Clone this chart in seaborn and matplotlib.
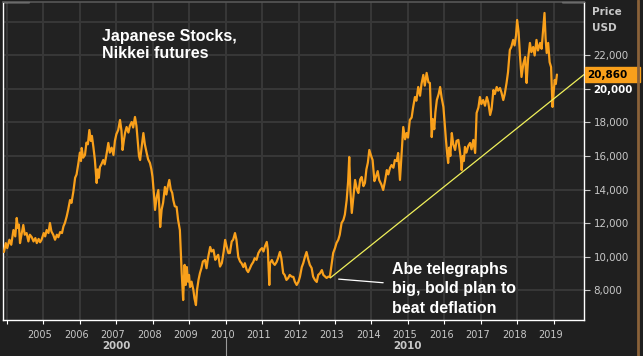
import pandas as pd
import matplotlib.pyplot as plt
import matplotlib.transforms as mtransforms
from matplotlib.patches import Rectangle
from matplotlib.lines import Line2D
import seaborn as sns

# Nikkei futures (USD): decimal year / price
years = [
    2003.93, 2003.98, 2004.02, 2004.08, 2004.13, 2004.19, 2004.24, 2004.28, 2004.31, 2004.34,
    2004.37, 2004.41, 2004.46, 2004.50, 2004.55, 2004.60, 2004.64, 2004.69, 2004.74, 2004.79,
    2004.83, 2004.88, 2004.92, 2004.96, 2005.02, 2005.06, 2005.10, 2005.15, 2005.19, 2005.23,
    2005.28, 2005.33, 2005.38, 2005.42, 2005.47, 2005.52, 2005.56, 2005.60, 2005.65, 2005.69,
    2005.74, 2005.78, 2005.83, 2005.88, 2005.92, 2005.97, 2006.01, 2006.04, 2006.06, 2006.10,
    2006.15, 2006.19, 2006.23, 2006.27, 2006.31, 2006.34, 2006.38, 2006.42, 2006.45, 2006.47,
    2006.50, 2006.53, 2006.56, 2006.60, 2006.65, 2006.69, 2006.74, 2006.79, 2006.83, 2006.88,
    2006.93, 2006.97, 2007.01, 2007.06, 2007.11, 2007.15, 2007.18, 2007.22, 2007.25, 2007.29,
    2007.34, 2007.38, 2007.43, 2007.47, 2007.52, 2007.56, 2007.60, 2007.63, 2007.66, 2007.70,
    2007.75, 2007.79, 2007.84, 2007.88, 2007.93, 2007.97, 2008.00, 2008.04, 2008.07, 2008.11,
    2008.16, 2008.19, 2008.21, 2008.25, 2008.29, 2008.34, 2008.38, 2008.42, 2008.46, 2008.50,
    2008.54, 2008.57, 2008.61, 2008.66, 2008.70, 2008.75, 2008.78, 2008.80, 2008.82, 2008.84,
    2008.86, 2008.88, 2008.91, 2008.94, 2008.97, 2009.00, 2009.03, 2009.07, 2009.12, 2009.15,
    2009.19, 2009.22, 2009.26, 2009.30, 2009.34, 2009.38, 2009.44, 2009.48, 2009.52, 2009.58,
    2009.62, 2009.67, 2009.72, 2009.76, 2009.80, 2009.85, 2009.90, 2009.95, 2009.99, 2010.03,
    2010.08, 2010.12, 2010.17, 2010.21, 2010.26, 2010.30, 2010.35, 2010.40, 2010.44, 2010.49,
    2010.53, 2010.58, 2010.62, 2010.67, 2010.71, 2010.76, 2010.80, 2010.85, 2010.90, 2010.95,
    2011.00, 2011.04, 2011.08, 2011.13, 2011.16, 2011.20, 2011.22, 2011.27, 2011.31, 2011.35,
    2011.40, 2011.44, 2011.49, 2011.53, 2011.58, 2011.62, 2011.67, 2011.72, 2011.76, 2011.81,
    2011.86, 2011.90, 2011.95, 2012.00, 2012.04, 2012.09, 2012.13, 2012.18, 2012.22, 2012.27,
    2012.31, 2012.36, 2012.40, 2012.45, 2012.50, 2012.54, 2012.59, 2012.64, 2012.68, 2012.73,
    2012.77, 2012.82, 2012.86, 2012.90, 2012.95, 2013.00, 2013.04, 2013.09, 2013.13, 2013.18,
    2013.23, 2013.27, 2013.32, 2013.36, 2013.39, 2013.42, 2013.46, 2013.50, 2013.55, 2013.60,
    2013.64, 2013.69, 2013.73, 2013.78, 2013.82, 2013.86, 2013.90, 2013.94, 2013.99, 2014.03,
    2014.08, 2014.12, 2014.17, 2014.21, 2014.27, 2014.32, 2014.37, 2014.42, 2014.46, 2014.51,
    2014.55, 2014.60, 2014.64, 2014.69, 2014.73, 2014.76, 2014.78, 2014.82, 2014.87, 2014.92,
    2014.96, 2015.00, 2015.05, 2015.10, 2015.14, 2015.19, 2015.23, 2015.28, 2015.33, 2015.37,
    2015.42, 2015.46, 2015.51, 2015.56, 2015.60, 2015.63, 2015.65, 2015.68, 2015.72, 2015.75,
    2015.79, 2015.84, 2015.88, 2015.92, 2015.97, 2016.01, 2016.04, 2016.07, 2016.10, 2016.13,
    2016.16, 2016.20, 2016.24, 2016.29, 2016.33, 2016.38, 2016.42, 2016.45, 2016.47, 2016.50,
    2016.53, 2016.56, 2016.60, 2016.65, 2016.70, 2016.74, 2016.79, 2016.82, 2016.84, 2016.86,
    2016.88, 2016.93, 2016.97, 2017.01, 2017.06, 2017.11, 2017.16, 2017.20, 2017.25, 2017.29,
    2017.34, 2017.38, 2017.43, 2017.47, 2017.52, 2017.56, 2017.61, 2017.65, 2017.70, 2017.74,
    2017.79, 2017.83, 2017.88, 2017.92, 2017.96, 2017.99, 2018.03, 2018.07, 2018.11, 2018.16,
    2018.21, 2018.23, 2018.25, 2018.29, 2018.34, 2018.38, 2018.43, 2018.47, 2018.52, 2018.56,
    2018.62, 2018.66, 2018.71, 2018.74, 2018.77, 2018.80, 2018.84, 2018.88, 2018.92, 2018.94,
    2018.96, 2018.99, 2019.02, 2019.05, 2019.08,
]
prices = [
    10270, 10800, 10500, 11000, 10700, 11580, 11200, 12300, 11700, 11900,
    10800, 11300, 11880, 11300, 11400, 10900, 11300, 11160, 10900, 11100,
    10800, 11050, 10850, 11000, 11400, 11200, 11580, 11400, 12000, 11500,
    11300, 11000, 11300, 11150, 11460, 11400, 11800, 12000, 12400, 12800,
    13370, 13200, 13850, 14700, 14900, 15580, 16200, 15700, 16480, 15900,
    16060, 16800, 16700, 17550, 16900, 17200, 16540, 15800, 15000, 14390,
    15200, 14700, 15340, 15500, 15760, 15500, 16100, 16780, 16200, 16500,
    16060, 16900, 17300, 17550, 18150, 17500, 16360, 17000, 17400, 17730,
    17400, 17800, 18030, 17700, 18330, 17800, 16800, 16000, 15760, 16500,
    17370, 16700, 16180, 15800, 15580, 15200, 14750, 13700, 12780, 13500,
    13970, 12800, 11760, 12800, 13200, 14150, 13700, 14200, 14570, 14000,
    13800, 13370, 13000, 12960, 12200, 11580, 10000, 9010, 8200, 7400,
    8600, 9500, 8300, 9370, 8500, 8900, 8180, 8500, 8000, 7500,
    7100, 8000, 8600, 9010, 9300, 9700, 9790, 9300, 9900, 10570,
    10300, 10400, 9800, 9970, 10100, 9400, 9610, 10300, 10990, 10600,
    10200, 10210, 10900, 11000, 11400, 11000, 9970, 9700, 9600, 9370,
    9600, 9200, 9070, 9300, 9500, 9670, 9900, 9800, 10200, 10390,
    10500, 10300, 10600, 10870, 10400, 8300, 9600, 9790, 9600, 9500,
    9670, 9900, 10270, 9900, 9010, 8900, 8600, 8720, 8900, 8800,
    8780, 8500, 8300, 8500, 8800, 9370, 9600, 10000, 10270, 9800,
    9500, 9310, 8800, 8600, 8480, 8900, 9000, 9190, 8900, 8800,
    8720, 8800, 8780, 9400, 10210, 10500, 10800, 11000, 11300, 12000,
    12180, 12500, 13370, 14500, 15940, 14000, 12600, 13500, 14570, 14000,
    13790, 14600, 14750, 14200, 14390, 15200, 15600, 16360, 16000, 15760,
    14500, 14750, 15100, 14570, 14300, 13970, 14500, 15160, 14900, 15300,
    15460, 15300, 15760, 15700, 16180, 15200, 14570, 16000, 17730, 17000,
    17370, 17100, 18150, 18300, 18900, 19520, 19300, 20120, 19600, 20300,
    20840, 20200, 20960, 20400, 20360, 18500, 17130, 18200, 17600, 18600,
    19340, 19700, 20120, 19500, 18930, 17800, 16960, 16200, 15580, 16500,
    16000, 17370, 16700, 16360, 16900, 16960, 16300, 15800, 15160, 16000,
    15700, 16540, 16200, 16600, 16780, 16400, 16960, 16500, 16180, 17400,
    18570, 18900, 19520, 19100, 19340, 19000, 19520, 19200, 18450, 18800,
    19940, 19700, 20120, 19900, 20060, 19800, 19340, 19700, 20360, 21000,
    22330, 22500, 22930, 22600, 23200, 24120, 23400, 21910, 20720, 21500,
    21910, 21000, 20360, 21800, 22750, 22200, 22510, 22000, 22930, 22300,
    22750, 22400, 23700, 24540, 23000, 22150, 22750, 21600, 21310, 20200,
    18930, 19800, 20540, 20300, 20860,
]

trend_years = [2012.87, 2019.82]
trend_prices = [8720, 20860]

abe_year = 2013.1
abe_price = 8650
last_price = 20860

tick_years = list(range(2004, 2020))
tick_labels = [''] + [str(y) for y in range(2005, 2020)]
price_ticks = [8000, 10000, 12000, 14000, 16000, 18000, 20000, 22000]
extra_grid = [24000]
decade_labels = ['2000', '2010']
decade_pos = [2007.0, 2015.0]
decade_split = 2010

BG = '#1f1f1f'
AX_BG = '#222222'
GRID = '#383838'
ORANGE = '#f9a01b'
YELLOW = '#f0f05a'
LABEL = '#c8c8c8'

sns.set_theme(style='dark', rc={
    'axes.facecolor': AX_BG,
    'figure.facecolor': BG,
    'axes.edgecolor': 'white',
    'grid.color': GRID,
})
plt.rcParams['font.family'] = ['DejaVu Sans']

fig = plt.figure(figsize=(6.43, 3.56), dpi=100, facecolor=BG)
ax = fig.add_axes([3 / 643, 36 / 356, 581 / 643, 318 / 356])

df = pd.DataFrame({'year': years, 'price': prices})
sns.lineplot(data=df, x='year', y='price', color=ORANGE, lw=1.6,
             estimator=None, sort=False, ax=ax, zorder=3)
sns.lineplot(x=trend_years, y=trend_prices, color=YELLOW, lw=0.9,
             estimator=None, ax=ax, zorder=4)

ax.set_xlim(2003.904, 2019.822)
ax.set_ylim(6209, 25194)
ax.set_xlabel('')
ax.set_ylabel('')

# grid + ticks
ax.set_xticks(tick_years)
ax.set_xticklabels(tick_labels)
ax.set_yticks(price_ticks)
ax.set_yticklabels([f'{v:,}' for v in price_ticks])
ax.set_yticks(extra_grid, minor=True)
ax.grid(True, which='both', color=GRID, lw=1.4)
ax.yaxis.tick_right()
ax.tick_params(axis='y', which='major', right=True, length=4, width=0.8,
               color=LABEL, labelcolor=LABEL, labelsize=7.4, pad=3)
ax.tick_params(axis='y', which='minor', length=0)
ax.tick_params(axis='x', bottom=True, length=3, width=0.8, color='white',
               labelcolor=LABEL, labelsize=7, pad=4)
shift = mtransforms.ScaledTranslation(-3 / 100, 0, fig.dpi_scale_trans)
for lab in ax.get_xticklabels():
    lab.set_transform(lab.get_transform() + shift)
for lab in ax.get_yticklabels():
    if lab.get_text() == '20,000':
        lab.set_fontweight('bold')
        lab.set_color('white')

for side in ['left', 'bottom', 'right']:
    ax.spines[side].set_color('white')
    ax.spines[side].set_linewidth(1)
ax.spines['top'].set_color('#555555')
ax.plot([0, 0.045], [1, 1], transform=ax.transAxes, color='white', lw=1, clip_on=False)
ax.plot([0.962, 1], [1, 1], transform=ax.transAxes, color='white', lw=1, clip_on=False)

# decade row under the years
blend = mtransforms.blended_transform_factory(ax.transData, ax.transAxes)
for lab, pos in zip(decade_labels, decade_pos):
    ax.text(pos, -0.083, lab, transform=blend, ha='center', va='center',
            color=LABEL, fontsize=7.4, fontweight='bold')
ax.plot([decade_split, decade_split], [-0.055, -0.12], transform=blend,
        color='#9a9a9a', lw=0.8, clip_on=False)

# right side labels
yblend = mtransforms.blended_transform_factory(ax.transAxes, ax.transData)
ax.add_patch(Rectangle((1.002, last_price - 450), 0.095, 900, transform=yblend,
                       color=ORANGE, clip_on=False, zorder=5))
ax.text(1.006, last_price, f'{last_price:,}', transform=yblend, ha='left',
        va='center', color='black', fontsize=7.5, fontweight='bold', zorder=6)
ax.text(1.013, 0.985, 'Price', transform=ax.transAxes, ha='left', va='top',
        color=LABEL, fontsize=7.5, fontweight='bold')
ax.text(1.013, 0.935, 'USD', transform=ax.transAxes, ha='left', va='top',
        color=LABEL, fontsize=7.5, fontweight='bold')

# annotations
ax.text(0.170, 0.915, 'Japanese Stocks,\nNikkei futures', transform=ax.transAxes,
        ha='left', va='top', color='white', fontsize=11.5, fontweight='bold',
        family='Liberation Sans', linespacing=1.2)
ax.annotate('Abe telegraphs\nbig, bold plan to\nbeat deflation',
            xy=(abe_year, abe_price), xycoords='data',
            xytext=(0.6695, 0.183), textcoords='axes fraction',
            ha='left', va='top', color='white', fontsize=11.5, fontweight='bold',
            family='Liberation Sans', linespacing=1.38,
            arrowprops=dict(arrowstyle='-', color='white', lw=0.9,
                            shrinkA=4, shrinkB=0, relpos=(0, 0.6)))

fig.add_artist(Line2D([0.9928, 0.9928], [0, 1], transform=fig.transFigure,
                      color='#8a6239', lw=2))

fig.savefig('out.png', dpi=100, facecolor=BG)
